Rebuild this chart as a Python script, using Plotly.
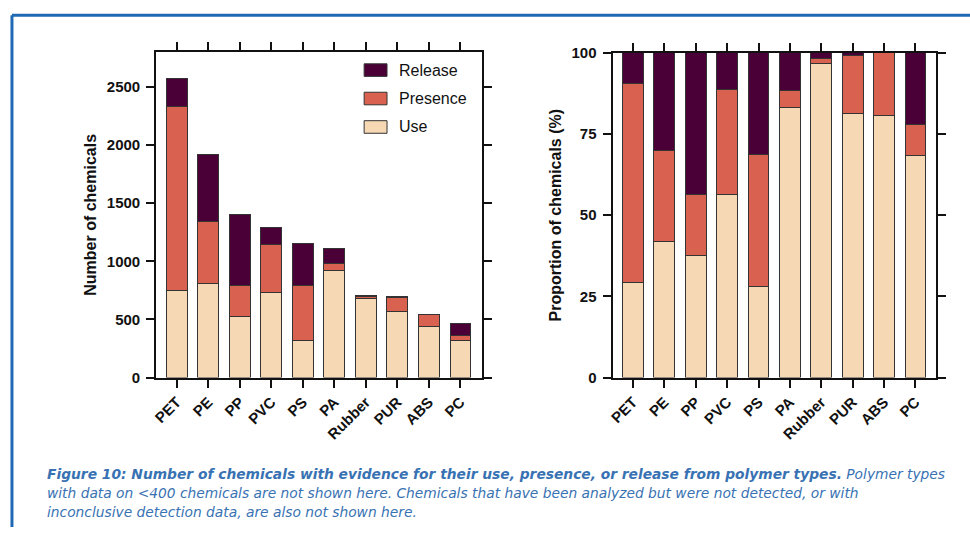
import plotly.graph_objects as go
from plotly.subplots import make_subplots

polymers = ["PET", "PE", "PP", "PVC", "PS", "PA", "Rubber", "PUR", "ABS", "PC"]
use_counts = [750, 805, 525, 730, 322, 925, 682, 565, 440, 318]
presence_counts = [1580, 540, 265, 418, 470, 60, 12, 124, 105, 45]
release_counts = [240, 577, 610, 145, 360, 128, 12, 6, 0, 102]

series_names = ["Use", "Presence", "Release"]
series_colors = ["#f6d8b4", "#d8614f", "#4a0036"]
left_ticks = [0, 500, 1000, 1500, 2000, 2500]
right_ticks = [0, 25, 50, 75, 100]

caption_lines = [
    "<b><i>Figure 10: Number of chemicals with evidence for their use, presence, or release "
    "from polymer types.</i></b><i> Polymer types</i>",
    "<i>with data on &lt;400 chemicals are not shown here. Chemicals that have been analyzed "
    "but were not detected, or with</i>",
    "<i>inconclusive detection data, are also not shown here.</i>",
]

series_counts = [use_counts, presence_counts, release_counts]
totals = [sum(v) for v in zip(*series_counts)]
series_pct = [[c / t * 100 for c, t in zip(s, totals)] for s in series_counts]

W, H = 970, 535
# map target-picture pixel positions to paper coordinates (page shows the figure
# offset ~8px from the top and slightly compressed vertically)
def px(x):
    return (x - 2) / W
def py(y):
    return 1 - ((y - 7.8) / 0.97) / H

fig = make_subplots(rows=1, cols=2)
for name, color, cnt, pct in zip(series_names, series_colors, series_counts, series_pct):
    fig.add_trace(go.Bar(x=polymers, y=cnt, name=name, width=0.66,
                         marker=dict(color=color, line=dict(color="#333333", width=1)),
                         showlegend=False), row=1, col=1)
    fig.add_trace(go.Bar(x=polymers, y=pct, name=name, width=0.66,
                         marker=dict(color=color, line=dict(color="#333333", width=1)),
                         showlegend=False), row=1, col=2)

tickfont = dict(family="Liberation Sans, Arial, sans-serif", size=15, color="#111111", weight="bold")
titlefont = dict(family="Liberation Sans, Arial, sans-serif", size=16, color="#111111", weight="bold")
common_x = dict(range=[-0.65, 9.67], tickangle=-45, tickfont=tickfont, showline=True,
                linecolor="#111111", linewidth=2, ticks="outside", ticklen=8, tickwidth=2,
                tickcolor="#111111", mirror="ticks", showgrid=False, zeroline=False)
common_y = dict(showline=True, linecolor="#111111", linewidth=2, ticks="outside", ticklen=8,
                tickwidth=2, tickcolor="#111111", mirror="ticks", showgrid=False, zeroline=False,
                tickfont=tickfont, automargin=True, ticklabelstandoff=3)

fig.update_layout(
    width=W, height=H, margin=dict(l=0, r=0, t=0, b=0),
    paper_bgcolor="white", plot_bgcolor="white", barmode="stack",
    xaxis=dict(domain=[px(154), px(481)], **common_x),
    xaxis2=dict(domain=[px(612.7), px(938.3)], **common_x),
    yaxis=dict(domain=[py(377), py(51)], range=[0, 2800], tickvals=left_ticks,
               title=dict(text="Number of chemicals", font=titlefont, standoff=6), **common_y),
    yaxis2=dict(domain=[py(377), py(51.7)], range=[0, 100], tickvals=right_ticks,
                title=dict(text="Proportion of chemicals (%)", font=titlefont, standoff=6), **common_y),
)

legend_rows = list(zip(series_names, series_colors))[::-1]
for i, (name, color) in enumerate(legend_rows):
    cy = 69 + i * 28.5
    fig.add_shape(type="rect", xref="paper", yref="paper",
                  x0=px(363), x1=px(386), y0=py(cy + 6.3), y1=py(cy - 6.3),
                  fillcolor=color, line=dict(color="#333333", width=1))
    fig.add_annotation(xref="paper", yref="paper", x=px(396), y=py(cy), text=name,
                       showarrow=False, xanchor="left", yanchor="middle",
                       font=dict(family="Liberation Sans, Arial, sans-serif", size=16, color="#111111"))

frame_color = "#1f68b3"
fig.add_shape(type="line", xref="paper", yref="paper", x0=px(9), x1=1, y0=py(14), y1=py(14),
              line=dict(color=frame_color, width=3))
fig.add_shape(type="line", xref="paper", yref="paper", x0=px(9), x1=px(9), y0=py(14), y1=0,
              line=dict(color=frame_color, width=3))

for i, line in enumerate(caption_lines):
    fig.add_annotation(xref="paper", yref="paper", x=px(42), y=py(474 + i * 19), text=line,
                       showarrow=False, xanchor="left", yanchor="middle", align="left",
                       font=dict(family="DejaVu Sans, sans-serif", size=13.8, color="#3872b3"))

fig.write_html("out.html")
